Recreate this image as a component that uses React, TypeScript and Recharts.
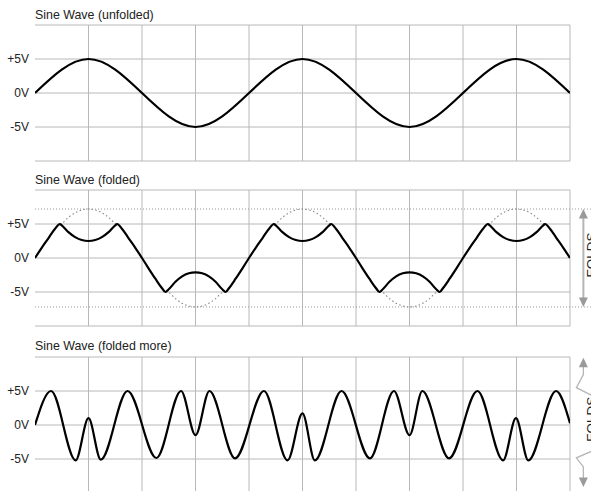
import React from 'react';
import { LineChart, Line, XAxis, YAxis, CartesianGrid, ReferenceLine } from 'recharts';

// ---------- data ----------
const titles = ['Sine Wave (unfolded)', 'Sine Wave (folded)', 'Sine Wave (folded more)'];
const xDomain = [0, 10];
const xTicks = [1, 2, 3, 4, 5, 6, 7, 8, 9, 10];
const yTicks = [-10, -5, 0, 5, 10];
const yLabels: Record<number, string> = { 5: '+5V', 0: '0V', [-5]: '-5V' };

// panel 1: plain sine (extrema)
const sineX = [0, 1, 3, 5, 7, 9, 10];
const sineY = [0, 5, -5, 5, -5, 5, 0];

// panel 2: folded sine
const foldX = [
  0, 0.125, 0.25, 0.375, 0.465, 0.5, 0.625, 0.75, 0.875, 1, 1.125, 1.25, 1.375, 1.5, 1.535, 1.625, 1.75, 1.875,
  2, 2.125, 2.25, 2.375, 2.436, 2.5, 2.625, 2.75, 2.875, 3, 3.125, 3.25, 3.375, 3.5, 3.564, 3.625, 3.75, 3.875,
  4, 4.125, 4.25, 4.375, 4.465, 4.5, 4.625, 4.75, 4.875, 5, 5.125, 5.25, 5.375, 5.5, 5.535, 5.625, 5.75, 5.875,
  6, 6.125, 6.25, 6.375, 6.436, 6.5, 6.625, 6.75, 6.875, 7, 7.125, 7.25, 7.375, 7.5, 7.564, 7.625, 7.75, 7.875,
  8, 8.125, 8.25, 8.375, 8.465, 8.5, 8.625, 8.75, 8.875, 9, 9.125, 9.25, 9.375, 9.5, 9.535, 9.625, 9.75, 9.875,
  10,
];
const foldY = [
  0, 1.5, 2.9, 4.3, 5, 4.8, 3.8, 3.07, 2.64, 2.5, 2.64, 3.07, 3.8, 4.8, 5, 4.3, 2.9, 1.5,
  0, -1.55, -3.05, -4.45, -5, -4.6, -3.5, -2.7, -2.25, -2.1, -2.25, -2.7, -3.5, -4.6, -5, -4.45, -3.05, -1.55,
  0, 1.5, 2.9, 4.3, 5, 4.8, 3.8, 3.07, 2.64, 2.5, 2.64, 3.07, 3.8, 4.8, 5, 4.3, 2.9, 1.5,
  0, -1.55, -3.05, -4.45, -5, -4.6, -3.5, -2.7, -2.25, -2.1, -2.25, -2.7, -3.5, -4.6, -5, -4.45, -3.05, -1.55,
  0, 1.5, 2.9, 4.3, 5, 4.8, 3.8, 3.07, 2.64, 2.5, 2.64, 3.07, 3.8, 4.8, 5, 4.3, 2.9, 1.5,
  0,
];
const N = null;
const arcY = [
  N, N, N, N, 5, 5.09, 5.98, 6.65, 7.06, 7.2, 7.06, 6.65, 5.98, 5.09, 5, N, N, N,
  N, N, N, N, -5, -5.09, -5.98, -6.65, -7.06, -7.2, -7.06, -6.65, -5.98, -5.09, -5, N, N, N,
  N, N, N, N, 5, 5.09, 5.98, 6.65, 7.06, 7.2, 7.06, 6.65, 5.98, 5.09, 5, N, N, N,
  N, N, N, N, -5, -5.09, -5.98, -6.65, -7.06, -7.2, -7.06, -6.65, -5.98, -5.09, -5, N, N, N,
  N, N, N, N, 5, 5.09, 5.98, 6.65, 7.06, 7.2, 7.06, 6.65, 5.98, 5.09, 5, N, N, N,
  N,
];
const foldLimit = 7.2;

// panel 3: folded more (extrema)
const fold2X = [0, 0.3, 0.76, 1.0, 1.23, 1.73, 2.27, 2.73, 3.0, 3.26, 3.74, 4.28, 4.72, 5.0, 5.23, 5.73, 6.26, 6.71, 7.0, 7.24, 7.74, 8.27, 8.75, 8.99, 9.22, 9.74, 10];
const fold2Y = [0, 5, -5.2, 1.0, -5.1, 5, -4.85, 5, -1.5, 5, -4.9, 5, -5.2, 1.7, -5.2, 5, -4.9, 5, -1.5, 5, -4.9, 5, -5.2, 1.0, -5.2, 5, 0.25];

// ---------- layout ----------
const W = 591;
const CH = 170;
const panelTops = [0, 165, 332];
const titleBaselines = [19, 184, 349.5];
const margin = { top: 25, right: 21, bottom: 9, left: 0 };
const FONT = '"Liberation Sans", Arial, Helvetica, sans-serif';
const GRID = '#b8b8b8';
const ARROW = '#9a9a9a';
const ARROW_X = 10.25;

const rows1 = sineX.map((x, i) => ({ x, y: sineY[i] }));
const rows2 = foldX.map((x, i) => ({ x, y: foldY[i], arc: arcY[i] }));
const rows3 = fold2X.map((x, i) => ({ x, y: fold2Y[i] }));

const YTick = (props: any) => {
  const { x, y, payload } = props;
  return (
    <text x={x} y={y} dy="0.36em" textAnchor="end" fontSize={12} fontFamily={FONT} fill="#222">
      {yLabels[payload.value] ?? ''}
    </text>
  );
};

const FoldsText = ({ x, y }: { x: number; y: number }) => (
  <text
    x={x + 12.5}
    y={y}
    transform={`rotate(-90 ${x + 12.5} ${y})`}
    textAnchor="middle"
    fontSize={13.5}
    fontFamily={FONT}
    fill="#222"
  >
    FOLDS
  </text>
);

const Head = ({ x, y, dir }: { x: number; y: number; dir: 1 | -1 }) => (
  <polygon points={`${x},${y} ${x - 4.5},${y + dir * 9.5} ${x + 4.5},${y + dir * 9.5}`} fill={ARROW} />
);

const FoldArrow = (p: any) => {
  const { x1, y1, x2, y2 } = p;
  return (
    <g>
      <line x1={x1} y1={y1 + 8} x2={x2} y2={y2 - 8} stroke="#b5b5b5" strokeWidth={2} />
      <Head x={x1} y={y1} dir={1} />
      <Head x={x2} y={y2} dir={-1} />
      <FoldsText x={x1} y={(y1 + y2) / 2 - 3} />
    </g>
  );
};

const ZigArrow = (p: any) => {
  const { x1, y1, x2, y2 } = p;
  const top = `${x1},${y1 + 8} ${x1},${y1 + 17} ${x1 - 7},${y1 + 30} ${x1 + 9},${y1 + 38} ${x1 + 9},${y2 - 36}`;
  const bot = `${x1 + 9},${y2 - 36} ${x1 - 7},${y2 - 29} ${x1},${y2 - 20} ${x1},${y2 - 8}`;
  return (
    <g>
      <polyline points={top} fill="none" stroke="#b5b5b5" strokeWidth={1.3} />
      <polyline points={bot} fill="none" stroke="#b5b5b5" strokeWidth={1.3} />
      <Head x={x1} y={y1} dir={1} />
      <Head x={x2} y={y2} dir={-1} />
      <FoldsText x={x1} y={(y1 + y2) / 2 - 3} />
    </g>
  );
};

// vertical grid lines at xTicks, mapped through the plot's horizontal extent
const verticalLines = (props: any) => {
  const sc = props?.xAxis?.scale;
  if (typeof sc === 'function') return xTicks.map((t) => sc(t));
  if (sc && typeof sc.map === 'function') {
    try {
      return xTicks.map((t) => sc.map(t));
    } catch (e) {
      /* fall through */
    }
  }
  const off = props?.offset ?? { left: margin.left + 35, width: W - 35 - margin.right };
  return xTicks.map((t) => off.left + ((t - xDomain[0]) / (xDomain[1] - xDomain[0])) * off.width);
};

function Panel({ top, data, children }: { top: number; data: any[]; children: React.ReactNode }) {
  return (
    <div style={{ position: 'absolute', left: 0, top, width: W, height: CH }}>
      <LineChart width={W} height={CH} data={data} margin={margin}>
        <CartesianGrid stroke={GRID} verticalCoordinatesGenerator={verticalLines} />
        <XAxis
          type="number"
          dataKey="x"
          domain={xDomain}
          ticks={xTicks}
          height={0}
          tick={false}
          axisLine={false}
          tickLine={false}
          allowDataOverflow
        />
        <YAxis
          type="number"
          domain={[-10, 10]}
          ticks={yTicks}
          width={35}
          tickSize={4}
          tickMargin={2}
          axisLine={false}
          tickLine={false}
          tick={<YTick />}
          allowDataOverflow
        />
        {children}
      </LineChart>
    </div>
  );
}

export default function App() {
  return (
    <div style={{ position: 'fixed', left: 0, top: 0, width: W, height: 491, overflow: 'hidden', background: '#fff' }}>
      <Panel top={panelTops[0]} data={rows1}>
        <Line type="monotone" dataKey="y" stroke="#000" strokeWidth={2.2} dot={false} isAnimationActive={false} />
      </Panel>
      <Panel top={panelTops[1]} data={rows2}>
        <ReferenceLine
          segment={[{ x: 0, y: foldLimit }, { x: 10.39, y: foldLimit }]}
          ifOverflow="visible"
          stroke="#999"
          strokeDasharray="1 2"
        />
        <ReferenceLine
          segment={[{ x: 0, y: -foldLimit }, { x: 10.39, y: -foldLimit }]}
          ifOverflow="visible"
          stroke="#999"
          strokeDasharray="1 2"
        />
        <ReferenceLine
          segment={[{ x: ARROW_X, y: foldLimit }, { x: ARROW_X, y: -foldLimit }]}
          ifOverflow="visible"
          shape={FoldArrow}
        />
        <Line type="monotone" dataKey="arc" stroke="#888" strokeWidth={1.1} strokeDasharray="1.5 2.5" dot={false} isAnimationActive={false} />
        <Line type="monotone" dataKey="y" stroke="#000" strokeWidth={2.2} dot={false} isAnimationActive={false} />
      </Panel>
      <Panel top={panelTops[2]} data={rows3}>
        <ReferenceLine
          segment={[{ x: ARROW_X, y: 9.9 }, { x: ARROW_X, y: -9.1 }]}
          ifOverflow="visible"
          shape={ZigArrow}
        />
        <Line type="monotone" dataKey="y" stroke="#000" strokeWidth={2.2} dot={false} isAnimationActive={false} />
      </Panel>
      <svg width={W} height={491} style={{ position: 'absolute', left: 0, top: 0, pointerEvents: 'none' }}>
        {titles.map((t, i) => (
          <text key={t} x={35} y={titleBaselines[i]} fontSize={12.4} fontFamily={FONT} fill="#222">
            {t}
          </text>
        ))}
      </svg>
    </div>
  );
}
